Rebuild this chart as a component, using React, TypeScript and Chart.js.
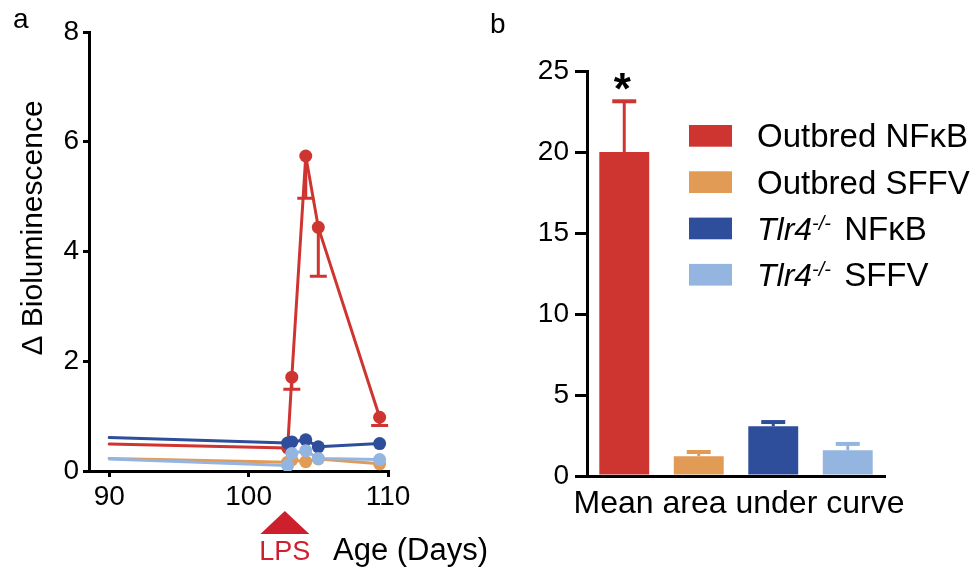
import React, { useEffect, useRef } from "react";
import { Chart, registerables } from "chart.js";

Chart.register(...registerables);

const FONT = '"Liberation Sans", Arial, Helvetica, sans-serif';

// ---------- Panel a data ----------
const DAYS = [90, 102.8, 103.1, 104.1, 105, 109.4];
const X_TICKS_A = [90, 100, 110];
const OUTBRED_NFKB = [0.49, 0.42, 1.71, 5.74, 4.44, 0.98];
const OUTBRED_NFKB_ERR_LOW: (number | null)[] = [null, null, 1.49, 4.97, 3.55, 0.83];
const OUTBRED_SFFV = [0.23, 0.16, 0.2, 0.17, 0.22, 0.13];
const TLR4_NFKB = [0.61, 0.51, 0.53, 0.57, 0.44, 0.5];
const TLR4_SFFV = [0.22, 0.1, 0.32, 0.37, 0.23, 0.21];
const LPS_DAY = 102.6;

// ---------- Panel b data ----------
const GROUPS = ["Outbred NFκB", "Outbred SFFV", "Tlr4-/- NFκB", "Tlr4-/- SFFV"];
const AUC_MEAN = [20.0, 1.22, 3.07, 1.59];
const AUC_SEM_TOP = [23.13, 1.48, 3.33, 1.98];
const LEGEND_ITALIC = ["", "", "Tlr4", "Tlr4"];
const LEGEND_SUP = ["", "", "-/-", "-/-"];
const LEGEND_TEXT = ["Outbred NFκB", "Outbred SFFV", " NFκB", " SFFV"];

const COLORS = ["#CF3530", "#E29B55", "#2E4D9B", "#94B5E0"];
const LPS_RED = "#CE1F2D";

const W = 974;
const H = 567;

const lineDataset = (label: string, values: number[], color: string, order: number) => ({
  label,
  data: DAYS.map((d, i) => ({ x: d, y: values[i] })),
  borderColor: color,
  backgroundColor: color,
  pointBackgroundColor: color,
  pointBorderColor: color,
  borderWidth: 3,
  borderJoinStyle: "round",
  borderCapStyle: "round",
  pointRadius: DAYS.map((_, i) => (i === 0 ? 0 : 6.5)),
  pointBorderWidth: 0,
  tension: 0,
  order,
});

const panelAPlugin = {
  id: "panelA",
  afterDatasetsDraw(chart: any) {
    const { ctx } = chart;
    const x = chart.scales.x;
    const y = chart.scales.y;
    ctx.save();
    ctx.strokeStyle = COLORS[0];
    ctx.lineWidth = 3;
    OUTBRED_NFKB_ERR_LOW.forEach((lo, i) => {
      if (lo == null) return;
      const px = x.getPixelForValue(DAYS[i]);
      const py = y.getPixelForValue(OUTBRED_NFKB[i]);
      const pl = y.getPixelForValue(lo);
      ctx.beginPath();
      ctx.moveTo(px, py);
      ctx.lineTo(px, pl);
      ctx.moveTo(px - 8.5, pl);
      ctx.lineTo(px + 8.5, pl);
      ctx.stroke();
    });
    ctx.restore();
  },
  afterDraw(chart: any) {
    const { ctx } = chart;
    const x = chart.scales.x;
    ctx.save();
    ctx.fillStyle = "#000";
    ctx.textBaseline = "alphabetic";
    ctx.textAlign = "left";
    ctx.font = `28px ${FONT}`;
    ctx.fillText("a", 13, 28);

    ctx.save();
    ctx.translate(42, 228);
    ctx.rotate(-Math.PI / 2);
    ctx.textAlign = "center";
    ctx.font = `30px ${FONT}`;
    ctx.fillText("Δ Bioluminescence", 0, 0);
    ctx.restore();

    const lx = x.getPixelForValue(LPS_DAY);
    ctx.fillStyle = LPS_RED;
    ctx.beginPath();
    ctx.moveTo(lx, 511);
    ctx.lineTo(lx + 24.5, 534);
    ctx.lineTo(lx - 24.5, 534);
    ctx.closePath();
    ctx.fill();
    ctx.font = `27px ${FONT}`;
    ctx.textAlign = "center";
    ctx.fillText("LPS", lx, 560);

    ctx.fillStyle = "#000";
    ctx.textAlign = "left";
    ctx.font = `31px ${FONT}`;
    ctx.fillText("Age (Days)", 333, 560);
    ctx.restore();
  },
};

const panelBPlugin = {
  id: "panelB",
  afterDatasetsDraw(chart: any) {
    const { ctx } = chart;
    const x = chart.scales.x;
    const y = chart.scales.y;
    ctx.save();
    AUC_MEAN.forEach((m, i) => {
      const px = x.getPixelForValue(i);
      const top = y.getPixelForValue(m);
      const cap = y.getPixelForValue(AUC_SEM_TOP[i]);
      ctx.strokeStyle = COLORS[i];
      ctx.lineWidth = 3;
      ctx.beginPath();
      ctx.moveTo(px, top);
      ctx.lineTo(px, cap);
      ctx.stroke();
      ctx.lineWidth = 4;
      ctx.beginPath();
      ctx.moveTo(px - 12, cap);
      ctx.lineTo(px + 12, cap);
      ctx.stroke();
    });
    ctx.restore();
  },
  afterDraw(chart: any) {
    const { ctx, chartArea } = chart;
    const x = chart.scales.x;
    ctx.save();
    ctx.fillStyle = "#000";
    ctx.textBaseline = "alphabetic";
    ctx.textAlign = "left";
    ctx.font = `28px ${FONT}`;
    ctx.fillText("b", 490, 33);

    // significance asterisk above first bar
    ctx.textAlign = "center";
    ctx.font = `bold 44px ${FONT}`;
    ctx.fillText("*", x.getPixelForValue(0) - 2, 104);

    // x-axis caption
    ctx.font = `32px ${FONT}`;
    ctx.fillText("Mean area under curve", (chartArea.left + chartArea.right) / 2 + 3, 513);

    // legend
    GROUPS.forEach((_, i) => {
      const top = 125 + i * 46.3;
      const cy = top + 10.8;
      ctx.fillStyle = COLORS[i];
      ctx.fillRect(689, top, 43, 21.7);
      ctx.fillStyle = "#000";
      ctx.textAlign = "left";
      const base = cy + 11.5;
      let tx = 757;
      if (LEGEND_ITALIC[i]) {
        ctx.font = `italic 32px ${FONT}`;
        ctx.fillText(LEGEND_ITALIC[i], tx, base);
        tx += ctx.measureText(LEGEND_ITALIC[i]).width;
        ctx.font = `italic 20px ${FONT}`;
        ctx.fillText(LEGEND_SUP[i], tx, base - 10);
        tx += ctx.measureText(LEGEND_SUP[i]).width + 4;
      }
      ctx.font = `33px ${FONT}`;
      ctx.fillText(LEGEND_TEXT[i], tx, base);
    });
    ctx.restore();
  },
};

function PanelA() {
  const ref = useRef<HTMLCanvasElement>(null);
  useEffect(() => {
    const chart = new Chart(ref.current as HTMLCanvasElement, {
      type: "line",
      data: {
        datasets: [
          lineDataset("Outbred NFκB", OUTBRED_NFKB, COLORS[0], 3),
          lineDataset("Outbred SFFV", OUTBRED_SFFV, COLORS[1], 2),
          lineDataset("Tlr4-/- NFκB", TLR4_NFKB, COLORS[2], 1),
          lineDataset("Tlr4-/- SFFV", TLR4_SFFV, COLORS[3], 0),
        ] as any,
      },
      options: {
        responsive: false,
        animation: false,
        layout: { padding: { top: 32, right: W - 388, left: 0, bottom: 0 } },
        plugins: { legend: { display: false }, tooltip: { enabled: false } },
        scales: {
          x: {
            type: "linear",
            min: 88.55,
            max: 110,
            afterBuildTicks: (scale: any) => {
              scale.ticks = X_TICKS_A.map((v) => ({ value: v }));
            },
            afterFit: (scale: any) => {
              scale.height = H - 471;
            },
            ticks: {
              color: "#000",
              font: { size: 28, family: FONT },
              padding: 3,
              maxRotation: 0,
              callback: (v: any) => String(v),
            },
            grid: {
              display: true,
              drawOnChartArea: false,
              drawTicks: true,
              tickLength: 6,
              color: "#000",
              lineWidth: 3,
            },
            border: { display: true, color: "#000", width: 3 },
          },
          y: {
            min: 0,
            max: 8,
            afterFit: (scale: any) => {
              scale.width = 89;
            },
            ticks: {
              stepSize: 2,
              color: "#000",
              font: { size: 28, family: FONT },
              padding: 4,
            },
            grid: {
              display: true,
              drawOnChartArea: false,
              drawTicks: true,
              tickLength: 6,
              color: "#000",
              lineWidth: 3,
            },
            border: { display: true, color: "#000", width: 3 },
          },
        },
      } as any,
      plugins: [panelAPlugin],
    });
    return () => chart.destroy();
  }, []);
  return (
    <canvas
      ref={ref}
      width={W}
      height={H}
      style={{ position: "absolute", left: 0, top: 0, width: W, height: H }}
    />
  );
}

function PanelB() {
  const ref = useRef<HTMLCanvasElement>(null);
  useEffect(() => {
    const chart = new Chart(ref.current as HTMLCanvasElement, {
      type: "bar",
      data: {
        labels: GROUPS,
        datasets: [
          {
            label: "Mean area under curve",
            data: AUC_MEAN,
            backgroundColor: COLORS,
            borderWidth: 0,
            barPercentage: 0.67,
            categoryPercentage: 1,
          },
        ],
      },
      options: {
        responsive: false,
        animation: false,
        layout: { padding: { top: 71, right: W - 885, left: 0, bottom: 0 } },
        plugins: { legend: { display: false }, tooltip: { enabled: false } },
        scales: {
          x: {
            afterFit: (scale: any) => {
              scale.height = H - 476;
            },
            ticks: { display: false },
            grid: { display: false },
            border: { display: true, color: "#000", width: 3 },
          },
          y: {
            min: 0,
            max: 25,
            afterFit: (scale: any) => {
              scale.width = 587;
            },
            ticks: {
              stepSize: 5,
              color: "#000",
              font: { size: 28, family: FONT },
              padding: 6,
            },
            grid: {
              display: true,
              drawOnChartArea: false,
              drawTicks: true,
              tickLength: 12,
              color: "#000",
              lineWidth: 3,
            },
            border: { display: true, color: "#000", width: 3 },
          },
        },
      } as any,
      plugins: [panelBPlugin],
    });
    return () => chart.destroy();
  }, []);
  return (
    <canvas
      ref={ref}
      width={W}
      height={H}
      style={{ position: "absolute", left: 0, top: 0, width: W, height: H }}
    />
  );
}

export default function App() {
  return (
    <div
      style={{
        position: "absolute",
        left: 0,
        top: 0,
        width: W,
        height: H,
        background: "#fff",
        overflow: "hidden",
      }}
    >
      <PanelA />
      <PanelB />
    </div>
  );
}
